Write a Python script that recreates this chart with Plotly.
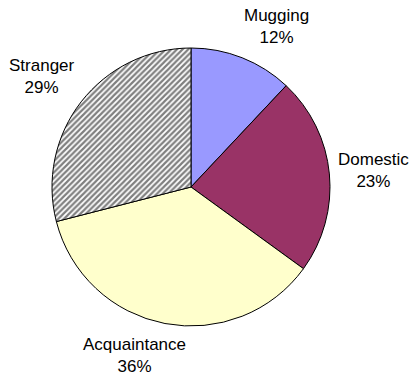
import plotly.graph_objects as go

categories = ["Mugging", "Domestic", "Acquaintance", "Stranger"]
shares = [12, 23, 36, 29]

colors = ["#9999FF", "#993366", "#FFFFCC", "#FFFFFF"]
patterns = ["", "", "", "/"]

W, H = 411, 376
# label centres in pixels (x, y from top)
label_px = [(276, 26), (373, 170), (134, 355), (42, 77)]

fig = go.Figure(go.Pie(
    labels=categories,
    values=shares,
    sort=False,
    direction="clockwise",
    rotation=0,
    textinfo="none",
    hoverinfo="label+percent",
    marker=dict(
        colors=colors,
        line=dict(color="#000000", width=1),
        pattern=dict(shape=patterns, fgcolor="#000000", bgcolor="#FFFFFF",
                     size=4, solidity=0.55, fillmode="overlay"),
    ),
    domain=dict(x=[52 / W, 330 / W], y=[(H - 327) / H, (H - 47) / H]),
    showlegend=False,
))

total = sum(shares)
for name, val, (px, py) in zip(categories, shares, label_px):
    fig.add_annotation(
        x=px / W, y=1 - py / H, xref="paper", yref="paper",
        text=f"{name}<br>{round(100 * val / total)}%",
        showarrow=False, xanchor="center", yanchor="middle",
        font=dict(family="Liberation Sans, Arial, sans-serif", size=17, color="#000000"),
    )

fig.update_layout(
    width=W, height=H,
    margin=dict(l=0, r=0, t=0, b=0),
    paper_bgcolor="#FFFFFF",
    plot_bgcolor="#FFFFFF",
)

fig.write_html("out.html")
